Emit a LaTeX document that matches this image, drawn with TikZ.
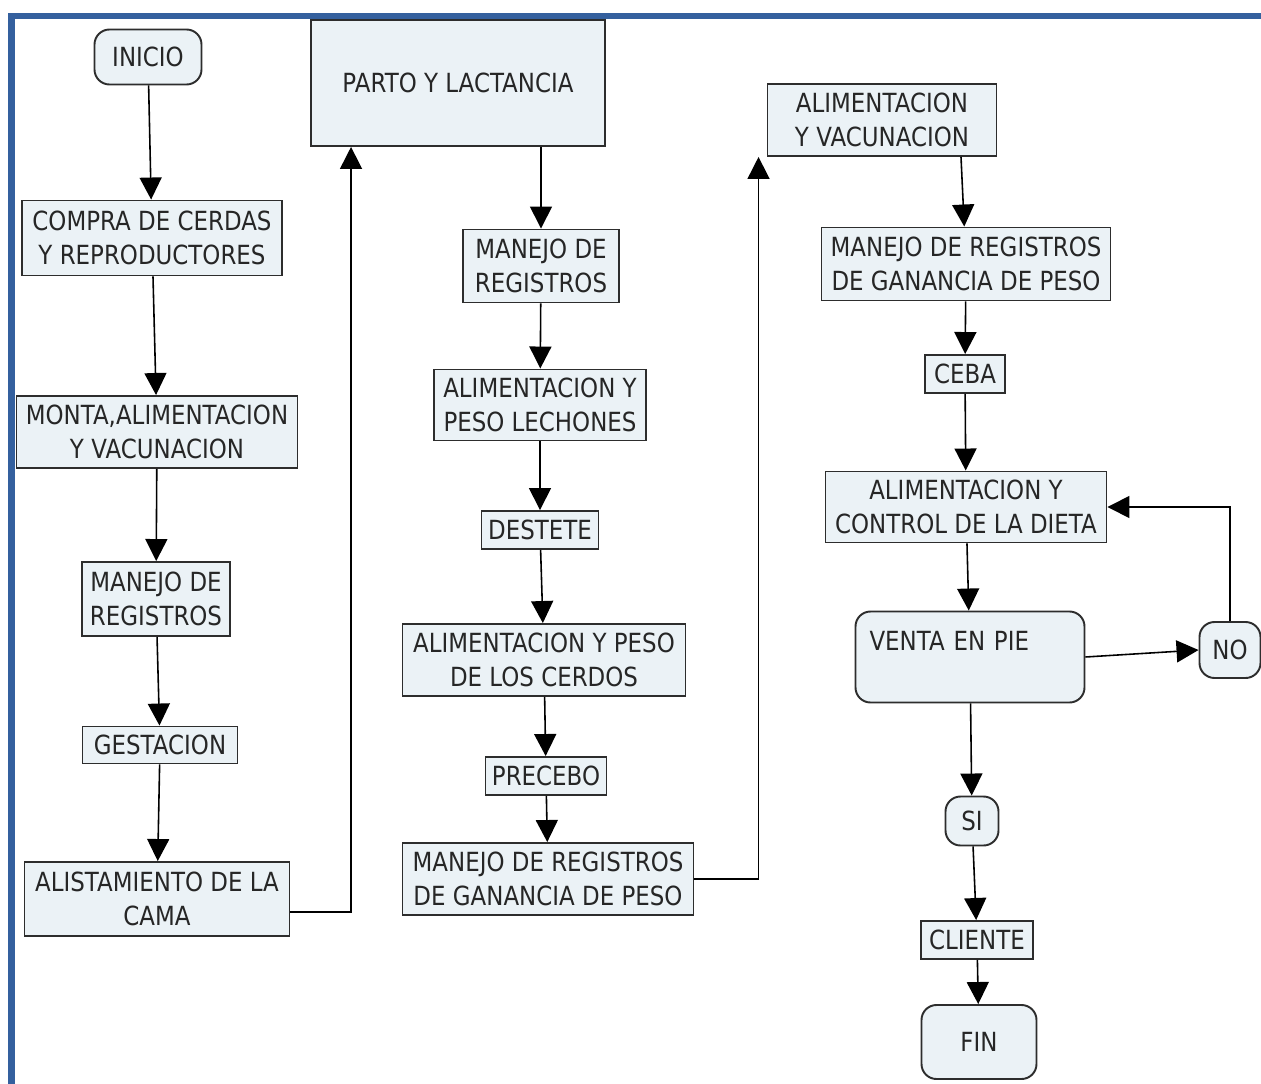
\documentclass[tikz,border=0pt]{standalone}
\usepackage{fontspec}
\setmainfont{DejaVu Sans}[FakeStretch=0.87]
\usetikzlibrary{arrows.meta}
\definecolor{marco}{RGB}{52,96,158}
\definecolor{fondo}{RGB}{235,242,246}
\definecolor{borde}{RGB}{45,45,45}
\begin{document}
\begin{tikzpicture}[caja/.style={draw=borde, fill=fondo, line width=1.1pt, align=center, inner sep=2pt, text=black!85, font=\fontsize{15}{19.3}\selectfont},
 redondo/.style={caja, rounded corners=.3cm},
 flecha/.style={line width=.9pt, -{Triangle[length=.44cm,width=.44cm]}}]
\useasboundingbox (0,0) rectangle (25.22,-21.68);
\draw[marco, line width=.13cm] (.23,-21.68)--(.23,-.32)--(25.22,-.32);
% columna 1
\node[redondo, minimum width=2.14cm, minimum height=1.1cm] (inicio) at (2.96,-1.14) {INICIO};
\node[caja, minimum width=5.2cm, minimum height=1.5cm] (compra) at (3.04,-4.76) {COMPRA DE CERDAS\\Y REPRODUCTORES};
\node[caja, minimum width=5.62cm, minimum height=1.44cm] (monta) at (3.14,-8.64) {MONTA,ALIMENTACION\\Y VACUNACION};
\node[caja, minimum width=2.96cm, minimum height=1.48cm] (regA) at (3.12,-11.98) {MANEJO DE\\REGISTROS};
\node[caja, minimum width=3.1cm, minimum height=.74cm] (gesta) at (3.2,-14.9) {GESTACION};
\node[caja, minimum width=5.3cm, minimum height=1.48cm] (cama) at (3.14,-17.98) {ALISTAMIENTO DE LA\\CAMA};
% columna 2
\node[caja, minimum width=5.88cm, minimum height=2.52cm] (parto) at (9.16,-1.66) {PARTO Y LACTANCIA};
\node[caja, minimum width=3.12cm, minimum height=1.46cm] (regB) at (10.82,-5.32) {MANEJO DE\\REGISTROS};
\node[caja, minimum width=4.24cm, minimum height=1.42cm] (lechon) at (10.8,-8.1) {ALIMENTACION Y\\PESO LECHONES};
\node[caja, minimum width=2.34cm, minimum height=.76cm] (destete) at (10.8,-10.6) {DESTETE};
\node[caja, minimum width=5.66cm, minimum height=1.44cm] (cerdos) at (10.88,-13.2) {ALIMENTACION Y PESO\\DE LOS CERDOS};
\node[caja, minimum width=2.42cm, minimum height=.76cm] (precebo) at (10.92,-15.52) {PRECEBO};
\node[caja, minimum width=5.82cm, minimum height=1.44cm] (ganA) at (10.96,-17.58) {MANEJO DE REGISTROS\\DE GANANCIA DE PESO};
% columna 3
\node[caja, minimum width=4.58cm, minimum height=1.44cm] (vacuna) at (17.64,-2.4) {ALIMENTACION\\Y VACUNACION};
\node[caja, minimum width=5.78cm, minimum height=1.46cm] (ganB) at (19.32,-5.28) {MANEJO DE REGISTROS\\DE GANANCIA DE PESO};
\node[caja, minimum width=1.6cm, minimum height=.76cm] (ceba) at (19.3,-7.48) {CEBA};
\node[caja, minimum width=5.62cm, minimum height=1.42cm] (dieta) at (19.32,-10.14) {ALIMENTACION Y\\CONTROL DE LA DIETA};
\node[redondo, text width=4.02cm, align=left, inner xsep=.28cm, text depth=.66cm, minimum height=1.82cm] (venta) at (19.4,-13.14) {VENTA EN PIE};
\node[redondo, minimum width=1.22cm, minimum height=1.12cm] (no) at (24.6,-13.0) {NO};
\node[redondo, minimum width=1.06cm, minimum height=.98cm] (si) at (19.44,-16.42) {SI};
\node[caja, minimum width=2.24cm, minimum height=.76cm] (cliente) at (19.54,-18.8) {CLIENTE};
\node[redondo, minimum width=2.3cm, minimum height=1.48cm] (fin) at (19.58,-20.84) {FIN};
% flechas
\foreach \d/\dd in {inicio/compra, compra/monta, monta/regA, regA/gesta, gesta/cama, regB/lechon, lechon/destete, destete/cerdos, cerdos/precebo, precebo/ganA, ganB/ceba, ceba/dieta, dieta/venta, venta/si, si/cliente, cliente/fin}
  \draw[flecha] (\d) -- (\dd);
\draw[flecha] (regB|-parto.south) -- (regB);
\draw[flecha] ([xshift=-.1cm]ganB|-vacuna.south) -- (ganB);
\draw[flecha] ([yshift=-.26cm]cama.east) -| ([xshift=.82cm]parto.south west);
\draw[flecha] (ganA.east) -| ([xshift=-.16cm]vacuna.south west);
\draw[flecha] (venta.east) -- (no.west);
\draw[flecha] (no.north) |- (dieta.east);
\end{tikzpicture}
\end{document}
